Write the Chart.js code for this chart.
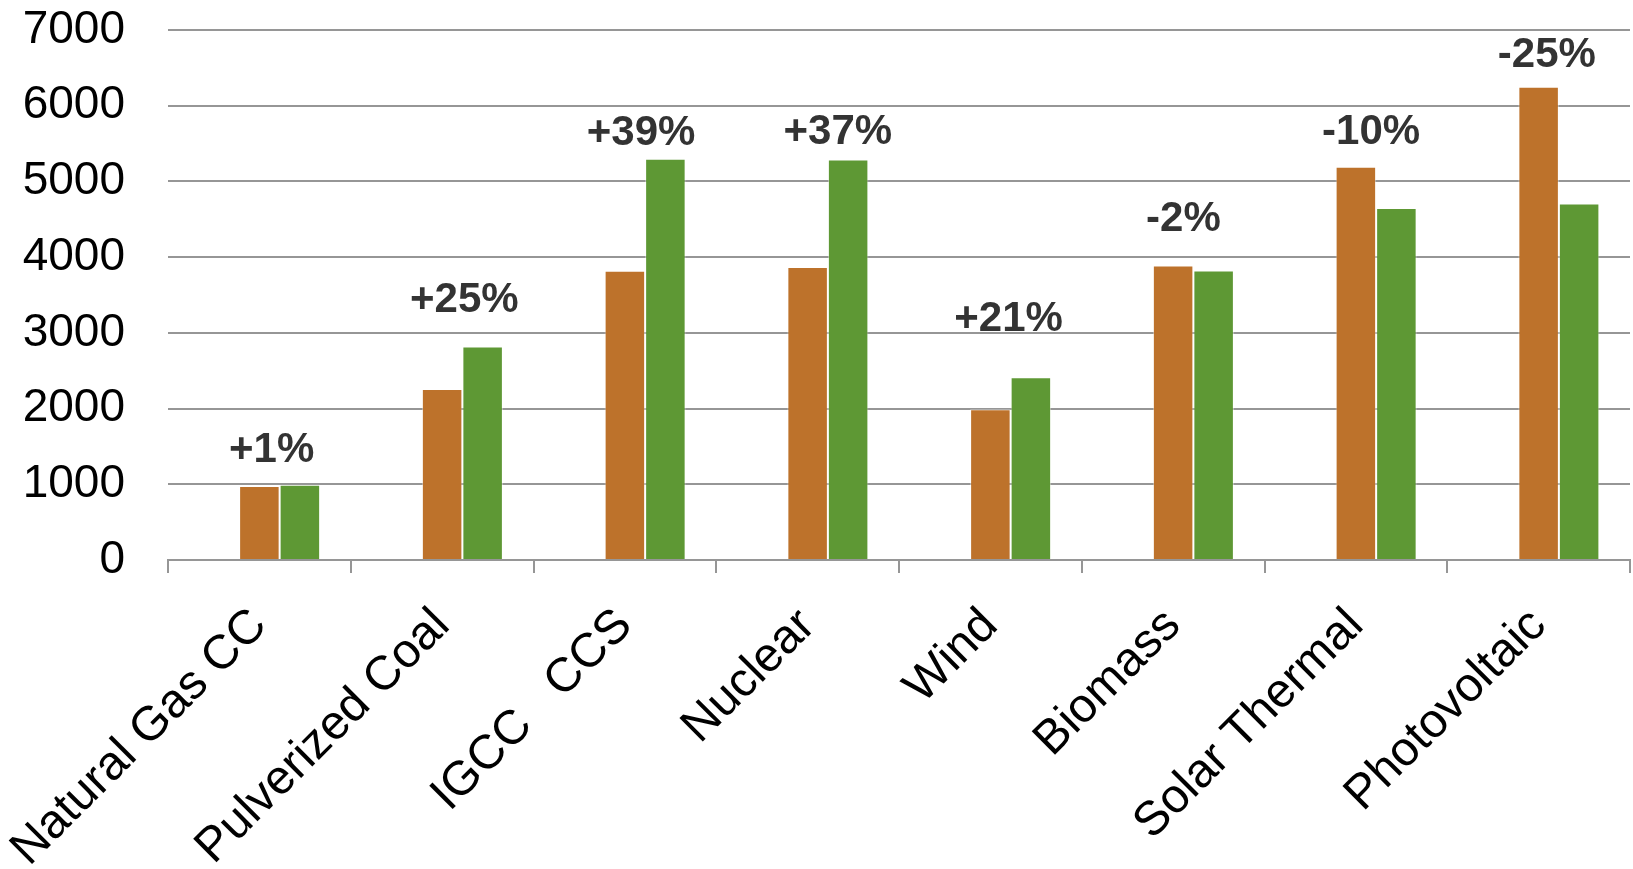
<!DOCTYPE html>
<html>
<head>
<meta charset="utf-8">
<script src="https://cdn.jsdelivr.net/npm/chart.js@4"></script>
<style>
  html, body { margin: 0; padding: 0; background: #fff; }
  #wrap { width: 1633px; height: 869px; position: relative; }
</style>
</head>
<body>
<div id="wrap"><canvas id="myChart"></canvas></div>
<script>
// data
const categories = ["Natural Gas CC", "Pulverized Coal", "IGCC   CCS", "Nuclear", "Wind", "Biomass", "Solar Thermal", "Photovoltaic"];
const costBefore = [978, 2260, 3820, 3870, 1990, 3890, 5195, 6250];
const costAfter = [995, 2820, 5300, 5290, 2415, 3825, 4650, 4710];
const changeLabels = ["+1%", "+25%", "+39%", "+37%", "+21%", "-2%", "-10%", "-25%"];
const yTickLabels = ["0", "1000", "2000", "3000", "4000", "5000", "6000", "7000"];
const yStep = 1000;

// label placement (px above the taller bar / sideways nudge)
const labelLift = [23, 34, 14, 15, 46, 34, 23, 20];
const labelShift = [-8, 2, -4, 10, -2, -10, -5, -12];

const orange = "#bd722b";
const green = "#5e9834";
const gridGray = "#969696";
const fontFamily = "'Liberation Sans', Arial, sans-serif";

// draws the +x% labels over each pair
const changeLabelPlugin = {
  id: "changeLabels",
  afterDatasetsDraw(chart) {
    const ctx = chart.ctx;
    const a = chart.getDatasetMeta(1).data;
    const b = chart.getDatasetMeta(2).data;
    ctx.save();
    ctx.font = "bold 42px " + fontFamily;
    ctx.fillStyle = "#333333";
    ctx.textAlign = "center";
    ctx.textBaseline = "alphabetic";
    changeLabels.forEach((txt, i) => {
      const cx = (a[i].x + b[i].x) / 2 + labelShift[i];
      const top = Math.min(a[i].y, b[i].y);
      ctx.fillText(txt, cx, top - labelLift[i]);
    });
    ctx.restore();
  },
};

const data = {
  labels: categories,
  datasets: [
    {
      // empty slot so the pair sits right of the category centre
      label: "",
      data: categories.map(() => null),
      backgroundColor: "rgba(0,0,0,0)",
    },
    {
      label: "Before",
      data: costBefore,
      backgroundColor: orange,
      borderColor: "rgba(255,255,255,0.45)",
      borderWidth: 1,
    },
    {
      label: "After",
      data: costAfter,
      backgroundColor: green,
      borderColor: "rgba(255,255,255,0.45)",
      borderWidth: 1,
    },
  ],
};

const config = {
  type: "bar",
  data: data,
  options: {
    responsive: true,
    maintainAspectRatio: false,
    animation: false,
    layout: {
      padding: { top: 30, left: 23, right: 3, bottom: 0 },
    },
    datasets: {
      bar: {
        categoryPercentage: 0.665,
        barPercentage: 1.0,
      },
    },
    plugins: {
      legend: { display: false },
      tooltip: { enabled: false },
    },
    scales: {
      x: {
        offset: true,
        border: { display: true, color: gridGray, width: 2 },
        grid: {
          offset: true,
          drawOnChartArea: false,
          drawTicks: true,
          tickLength: 13,
          color: gridGray,
          lineWidth: 2,
        },
        ticks: {
          autoSkip: false,
          maxRotation: 45,
          minRotation: 45,
          padding: 28,
          color: "#000",
          font: { family: fontFamily, size: 48, lineHeight: 1 },
        },
        afterFit: (axis) => {
          axis.height = 309;
          axis.paddingLeft = 0;
          axis.paddingRight = 0;
        },
      },
      y: {
        min: 0,
        max: yStep * (yTickLabels.length - 1),
        border: { display: false },
        grid: {
          color: gridGray,
          lineWidth: 2,
          drawTicks: false,
        },
        ticks: {
          stepSize: yStep,
          padding: 43,
          color: "#000",
          font: { family: fontFamily, size: 46, lineHeight: 1 },
          callback: (value) => yTickLabels[Math.round(value / yStep)],
        },
        afterFit: (axis) => {
          axis.width = 145;
          axis.paddingTop = 0;
          axis.paddingBottom = 0;
        },
      },
    },
  },
  plugins: [changeLabelPlugin],
};

const myChart = new Chart(document.getElementById("myChart"), config);
</script>
</body>
</html>
